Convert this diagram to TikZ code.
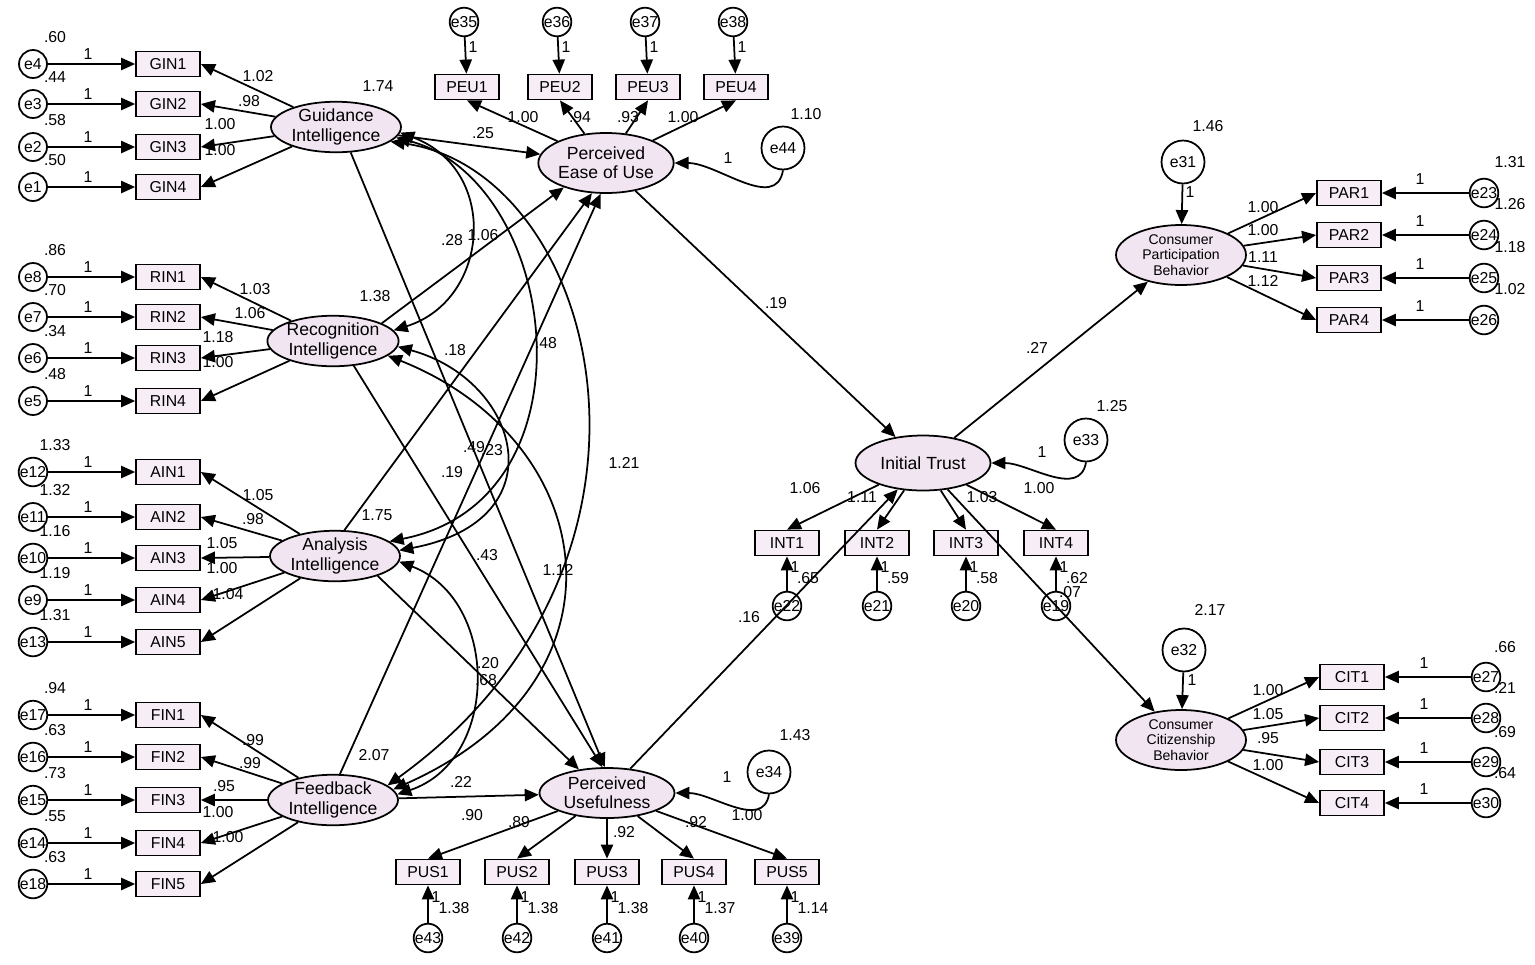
\documentclass[tikz,border=0pt]{standalone}
\usepackage{fontspec}
\setmainfont{Liberation Sans}
\usetikzlibrary{shapes.geometric,arrows.meta}

\tikzset{
  ind/.style={draw,line width=1pt,fill=violet!7,minimum width=1.28cm,minimum height=0.5cm,inner sep=0pt,font=\fontsize{9}{10}\selectfont},
  err/.style={draw,line width=1pt,circle,fill=white,minimum size=0.56cm,inner sep=0pt,font=\fontsize{9}{10}\selectfont},
  bigerr/.style={err,minimum size=0.86cm},
  lat/.style={draw,line width=1pt,ellipse,fill=violet!10,minimum width=2.6cm,minimum height=1.0cm,align=center,inner sep=0pt,font=\fontsize{10}{11}\selectfont},
  path/.style={-{Triangle[length=8pt,width=7pt]},line width=1pt},
  cov/.style={{Triangle[length=8pt,width=7pt]}-{Triangle[length=8pt,width=7pt]},line width=1pt},
  lbl/.style={font=\fontsize{9}{10}\selectfont,inner sep=0pt},
}

\begin{document}
\begin{tikzpicture}[x=0.02cm,y=-0.02cm]
  \useasboundingbox (0,0) rectangle (1535,964);

  % Latent variables
  \node[lat] (guid) at (336,127) {Guidance\\Intelligence};
  \node[lat] (reco) at (333,341) {Recognition\\Intelligence};
  \node[lat] (anal) at (335,556) {Analysis\\Intelligence};
  \node[lat] (feed) at (333,800) {Feedback\\Intelligence};
  \node[lat,minimum width=2.7cm,minimum height=1.2cm] (peu) at (606,163) {Perceived\\Ease of Use};
  \node[lat,minimum width=2.7cm] (pus) at (607,793) {Perceived\\Usefulness};
  \node[lat,minimum width=2.7cm,minimum height=1.1cm] (trust) at (923,463) {Initial Trust};
  \node[lat,minimum height=1.2cm,font=\fontsize{8}{9}\selectfont] (cpb) at (1181,255) {Consumer\\Participation\\Behavior};
  \node[lat,minimum height=1.2cm,font=\fontsize{8}{9}\selectfont] (ccb) at (1181,740) {Consumer\\Citizenship\\Behavior};

  % Variances of latent variables
  \node[lbl] at (378,86) {1.74};
  \node[lbl] at (375,296) {1.38};
  \node[lbl] at (377,515) {1.75};
  \node[lbl] at (374,755) {2.07};

  % Left indicators
  \foreach \name/\e/\y/\v/\lat in {GIN1/e4/64/.60/guid,GIN2/e3/104/.44/guid,GIN3/e2/147/.58/guid,GIN4/e1/187/.50/guid,
      RIN1/e8/277/.86/reco,RIN2/e7/317/.70/reco,RIN3/e6/358/.34/reco,RIN4/e5/401/.48/reco,
      AIN1/e12/472/1.33/anal,AIN2/e11/517/1.32/anal,AIN3/e10/558/1.16/anal,AIN4/e9/600/1.19/anal,AIN5/e13/642/1.31/anal,
      FIN1/e17/715/.94/feed,FIN2/e16/757/.63/feed,FIN3/e15/800/.73/feed,FIN4/e14/843/.55/feed,FIN5/e18/884/.63/feed} {
    \node[ind] (\name) at (168,\y) {\name};
    \node[err] (\e) at (33,\y) {\e};
    \draw[path] (\e) -- (\name);
    \draw[path] (\lat) -- (\name.east);
    \node[lbl] at (55,\y-27) {\v};
    \node[lbl] at (88,\y-10) {1};
  }
  % Left loadings
  \foreach \t/\x/\y in {1.02/258/76,.98/249/101,1.00/220/124,1.00/220/150,
      1.03/255/289,1.06/250/313,1.18/218/337,1.00/218/362,
      1.05/258/495,.98/253/519,1.05/222/543,1.00/222/568,1.04/228/594,
      .99/253/740,.99/250/763,.95/224/786,1.00/218/812,1.00/228/837} {
    \node[lbl] at (\x,\y) {\t};
  }

  % Perceived Ease of Use indicators
  \foreach \name/\e/\x/\l/\lx in {PEU1/e35/467/1.00/523,PEU2/e36/560/.94/580,PEU3/e37/648/.93/628,PEU4/e38/736/1.00/683} {
    \node[ind] (\name) at (\x,87) {\name};
    \node[err] (\e) at (\x-3,22) {\e};
    \draw[path] (\e) -- (\name);
    \draw[path] (peu) -- (\name.south);
    \node[lbl] at (\x+6,47) {1};
    \node[lbl] at (\lx,117) {\l};
  }
  \node[bigerr] (e44) at (783,148) {e44};
  \draw[path] (e44.south) to[out=-100,in=0] (peu.east);
  \node[lbl] at (806,114) {1.10};
  \node[lbl] at (728,158) {1};

  % Perceived Usefulness indicators
  \foreach \name/\e/\x/\v/\l/\lx/\ly in {PUS1/e43/428/1.38/.90/472/815,PUS2/e42/517/1.38/.89/519/822,PUS3/e41/607/1.38/.92/624/832,PUS4/e40/694/1.37/.92/696/822,PUS5/e39/787/1.14/1.00/747/815} {
    \node[ind] (\name) at (\x,872) {\name};
    \node[err] (\e) at (\x,938) {\e};
    \draw[path] (\e) -- (\name);
    \draw[path] (pus) -- (\name.north);
    \node[lbl] at (\x+8,897) {1};
    \node[lbl] at (\x+26,908) {\v};
    \node[lbl] at (\lx,\ly) {\l};
  }
  \node[bigerr] (e34) at (769,772) {e34};
  \draw[path] (e34.south) to[out=-100,in=0] (pus.east);
  \node[lbl] at (795,735) {1.43};
  \node[lbl] at (727,777) {1};

  % Initial Trust indicators
  \foreach \name/\e/\x/\v/\l/\lx/\ly in {INT1/e22/787/.65/1.06/805/488,INT2/e21/877/.59/1.11/862/497,INT3/e20/966/.58/1.03/982/497,INT4/e19/1056/.62/1.00/1039/488} {
    \node[ind] (\name) at (\x,543) {\name};
    \node[err] (\e) at (\x,606) {\e};
    \draw[path] (\e) -- (\name);
    \draw[path] (trust) -- (\name.north);
    \node[lbl] at (\x+8,567) {1};
    \node[lbl] at (\x+21,578) {\v};
    \node[lbl] at (\lx,\ly) {\l};
  }
  \node[lbl] at (1070,592) {.07};
  \node[bigerr] (e33) at (1086,440) {e33};
  \draw[path] (e33.south) to[out=-100,in=0] (trust.east);
  \node[lbl] at (1112,406) {1.25};
  \node[lbl] at (1042,452) {1};

  % Consumer Participation Behavior indicators
  \node[bigerr] (e31) at (1183,162) {e31};
  \draw[path] (e31) -- (cpb);
  \node[lbl] at (1208,126) {1.46};
  \node[lbl] at (1190,192) {1};
  \foreach \name/\e/\y/\v/\l/\ly in {PAR1/e23/193/1.31/1.00/207,PAR2/e24/235/1.26/1.00/230,PAR3/e25/278/1.18/1.11/257,PAR4/e26/320/1.02/1.12/281} {
    \node[ind] (\name) at (1349,\y) {\name};
    \node[err] (\e) at (1484,\y) {\e};
    \draw[path] (\e) -- (\name);
    \draw[path] (cpb) -- (\name.west);
    \node[lbl] at (1420,\y-14) {1};
    \node[lbl] at (1510,\y-31) {\v};
    \node[lbl] at (1263,\ly) {\l};
  }

  % Consumer Citizenship Behavior indicators
  \node[bigerr] (e32) at (1184,650) {e32};
  \draw[path] (e32) -- (ccb);
  \node[lbl] at (1210,610) {2.17};
  \node[lbl] at (1192,680) {1};
  \foreach \name/\e/\y/\v/\l/\ly in {CIT1/e27/677/.66/1.00/690,CIT2/e28/718/.21/1.05/714,CIT3/e29/762/.69/.95/738,CIT4/e30/803/.64/1.00/765} {
    \node[ind] (\name) at (1352,\y) {\name};
    \node[err] (\e) at (1486,\y) {\e};
    \draw[path] (\e) -- (\name);
    \draw[path] (ccb) -- (\name.west);
    \node[lbl] at (1424,\y-14) {1};
    \node[lbl] at (1505,\y-30) {\v};
    \node[lbl] at (1268,\ly) {\l};
  }

  % Structural paths
  \draw[path] (guid) -- (peu);
  \draw[path] (reco.20) -- (peu.-150);
  \draw[path] (anal.70) -- (peu.-115);
  \draw[path] (feed.75) -- (peu.-100);
  \draw[path] (guid.-60) -- (pus.95);
  \draw[path] (reco.-50) -- (pus.100);
  \draw[path] (anal.-25) -- (pus.140);
  \draw[path] (feed) -- (pus);
  \draw[path] (peu) -- (trust);
  \draw[path] (pus) -- (trust);
  \draw[path] (trust) -- (cpb);
  \draw[path] (trust) -- (ccb);
  \foreach \t/\x/\y in {.25/483/133,.28/452/240,.18/455/350,.19/452/472,.49/474/447,.43/487/555,.20/488/663,.22/461/782,.19/776/303,.16/749/617,.27/1037/348} {
    \node[lbl] at (\x,\y) {\t};
  }

  % Covariances
  \draw[cov] (guid.-5) .. controls (500,170) and (490,300) .. (reco.10);
  \draw[cov] (guid.-10) .. controls (560,180) and (600,500) .. (anal.15);
  \draw[cov] (guid.-15) .. controls (600,170) and (700,560) .. (feed.15);
  \draw[cov] (reco.-5) .. controls (520,380) and (560,520) .. (anal.5);
  \draw[cov] (reco.-15) .. controls (600,440) and (640,680) .. (feed.10);
  \draw[cov] (anal.-5) .. controls (500,600) and (500,760) .. (feed.5);
  \foreach \t/\x/\y in {1.06/483/235,.48/546/343,1.21/624/463,.23/492/450,1.12/558/570,.68/486/680} {
    \node[lbl] at (\x,\y) {\t};
  }
\end{tikzpicture}
\end{document}
